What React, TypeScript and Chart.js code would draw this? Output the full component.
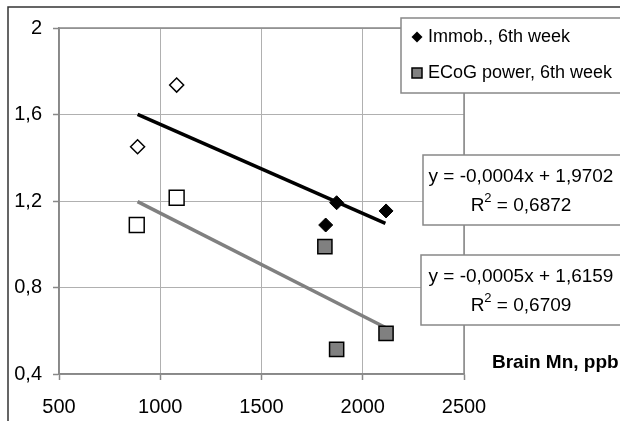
import React, { useEffect, useRef } from "react";
import { Chart, registerables } from "chart.js";

Chart.register(...registerables);

const seriesNames = ["Immob., 6th week", "ECoG power, 6th week"];
const immobFilledX = [1817, 1871, 2115];
const immobFilledY = [1.089, 1.192, 1.154];
const immobOpenX = [888, 1081];
const immobOpenY = [1.451, 1.736];
const ecogFilledX = [1813, 1871, 2115];
const ecogFilledY = [0.989, 0.514, 0.588];
const ecogOpenX = [884, 1081];
const ecogOpenY = [1.089, 1.215];
const immobTrendX = [888, 2112];
const immobTrendY = [1.601, 1.097];
const ecogTrendX = [888, 2112];
const ecogTrendY = [1.197, 0.615];
const xTickLabels = ["500", "1000", "1500", "2000", "2500"];
const yTickLabels = ["0,4", "0,8", "1,2", "1,6", "2"];
const eq1 = ["y = -0,0004x + 1,9702", "0,6872"];
const eq2 = ["y = -0,0005x + 1,6159", "0,6709"];
const xAxisTitle = "Brain Mn, ppb";

const zip = (xs: number[], ys: number[]) => xs.map((x, i) => ({ x, y: ys[i] }));

const FONT = "'Liberation Sans', Arial, sans-serif";

const overlayPlugin = {
  id: "overlay",
  beforeDraw(chart: any) {
    const ctx = chart.ctx;
    ctx.save();
    ctx.fillStyle = "#ffffff";
    ctx.fillRect(0, 0, chart.width, chart.height);
    ctx.restore();
  },
  afterDraw(chart: any) {
    const ctx = chart.ctx;
    const a = chart.chartArea;
    ctx.save();
    ctx.strokeStyle = "#888888";
    ctx.lineWidth = 1.5;
    ctx.strokeRect(a.left, a.top, a.right - a.left, a.bottom - a.top);
    ctx.strokeStyle = "#333333";
    ctx.lineWidth = 1.5;
    ctx.beginPath();
    ctx.moveTo(8, chart.height + 2);
    ctx.lineTo(8, 7);
    ctx.lineTo(chart.width + 2, 7);
    ctx.stroke();

    ctx.fillStyle = "#ffffff";
    ctx.fillRect(401, 18, 240, 75);
    ctx.strokeStyle = "#888888";
    ctx.lineWidth = 1.5;
    ctx.strokeRect(401, 18, 240, 75);
    ctx.fillStyle = "#000000";
    ctx.beginPath();
    ctx.moveTo(417, 37 - 5.5);
    ctx.lineTo(417 + 5.5, 37);
    ctx.lineTo(417, 37 + 5.5);
    ctx.lineTo(417 - 5.5, 37);
    ctx.closePath();
    ctx.fill();
    ctx.fillStyle = "#808080";
    ctx.fillRect(412, 68, 10, 10);
    ctx.strokeStyle = "#000000";
    ctx.lineWidth = 1.5;
    ctx.strokeRect(412, 68, 10, 10);
    ctx.fillStyle = "#000000";
    ctx.font = `18px ${FONT}`;
    ctx.textAlign = "left";
    ctx.textBaseline = "middle";
    ctx.fillText(seriesNames[0], 428, 37);
    ctx.fillText(seriesNames[1], 428, 73);

    const drawEq = (left: number, top: number, lines: string[]) => {
      ctx.fillStyle = "#ffffff";
      ctx.fillRect(left, top, 240, 70);
      ctx.strokeStyle = "#888888";
      ctx.lineWidth = 1.5;
      ctx.strokeRect(left, top, 240, 70);
      ctx.fillStyle = "#000000";
      ctx.textBaseline = "alphabetic";
      ctx.font = `19px ${FONT}`;
      ctx.textAlign = "center";
      const cx = 521;
      ctx.fillText(lines[0], cx, top + 27);
      ctx.textAlign = "left";
      const rest = " = " + lines[1];
      const wR = ctx.measureText("R").width;
      const wRest = ctx.measureText(rest).width;
      ctx.font = `13px ${FONT}`;
      const w2 = ctx.measureText("2").width;
      const total = wR + w2 + wRest;
      let x = cx - total / 2;
      const base = top + 56;
      ctx.font = `19px ${FONT}`;
      ctx.fillText("R", x, base);
      x += wR;
      ctx.font = `13px ${FONT}`;
      ctx.fillText("2", x, base - 9);
      x += w2;
      ctx.font = `19px ${FONT}`;
      ctx.fillText(rest, x, base);
    };
    drawEq(423, 155, eq1);
    drawEq(421, 255, eq2);

    ctx.font = `bold 19px ${FONT}`;
    ctx.textAlign = "left";
    ctx.textBaseline = "middle";
    ctx.fillStyle = "#000000";
    ctx.fillText(xAxisTitle, 492, 363);
    ctx.restore();
  },
};

export default function App() {
  const ref = useRef<HTMLCanvasElement | null>(null);
  useEffect(() => {
    if (!ref.current) return;
    const chart = new Chart(ref.current, {
      type: "scatter",
      data: {
        datasets: [
          {
            label: seriesNames[0],
            data: zip(immobFilledX, immobFilledY),
            pointStyle: "rectRot",
            pointRadius: 7,
            backgroundColor: "#000000",
            borderColor: "#000000",
            borderWidth: 1,
          },
          {
            label: seriesNames[0] + " (open)",
            data: zip(immobOpenX, immobOpenY),
            pointStyle: "rectRot",
            pointRadius: 7,
            backgroundColor: "#ffffff",
            borderColor: "#000000",
            borderWidth: 1.5,
          },
          {
            label: seriesNames[1],
            data: zip(ecogFilledX, ecogFilledY),
            pointStyle: "rect",
            pointRadius: 10,
            backgroundColor: "#808080",
            borderColor: "#000000",
            borderWidth: 1.5,
          },
          {
            label: seriesNames[1] + " (open)",
            data: zip(ecogOpenX, ecogOpenY),
            pointStyle: "rect",
            pointRadius: 10.5,
            backgroundColor: "#ffffff",
            borderColor: "#000000",
            borderWidth: 1.5,
          },
          {
            label: "Trend " + seriesNames[0],
            data: zip(immobTrendX, immobTrendY),
            showLine: true,
            pointRadius: 0,
            borderColor: "#000000",
            borderWidth: 3.5,
          },
          {
            label: "Trend " + seriesNames[1],
            data: zip(ecogTrendX, ecogTrendY),
            showLine: true,
            pointRadius: 0,
            borderColor: "#808080",
            borderWidth: 3.5,
          },
        ],
      },
      options: {
        animation: false,
        responsive: false,
        events: [],
        layout: { padding: { top: 28, right: 156, left: 0, bottom: 0 } },
        plugins: { legend: { display: false }, tooltip: { enabled: false } },
        scales: {
          x: {
            type: "linear",
            min: 500,
            max: 2500,
            ticks: {
              stepSize: 500,
              color: "#000000",
              font: { family: FONT, size: 20 },
              padding: 15,
              maxRotation: 0,
              callback: (_v: any, i: number) => xTickLabels[i],
            },
            grid: {
              color: "#b0b0b0",
              lineWidth: 1,
              borderDash: [1, 2],
              tickLength: 6,
              tickColor: "#888888",
              tickBorderDash: [],
              tickWidth: 1.5,
            } as any,
            border: { color: "#888888", width: 1.5 },
            afterFit: (s: any) => {
              s.height = 47;
            },
          },
          y: {
            type: "linear",
            min: 0.4,
            max: 2,
            ticks: {
              stepSize: 0.4,
              color: "#000000",
              font: { family: FONT, size: 20 },
              padding: 11,
              callback: (_v: any, i: number) => yTickLabels[i],
            },
            grid: {
              color: "#b0b0b0",
              lineWidth: 1,
              borderDash: [1, 2],
              tickLength: 6,
              tickColor: "#888888",
              tickBorderDash: [],
              tickWidth: 1.5,
            } as any,
            border: { color: "#888888", width: 1.5 },
            afterFit: (s: any) => {
              s.width = 59;
            },
          },
        },
      } as any,
      plugins: [overlayPlugin],
    });
    return () => chart.destroy();
  }, []);
  return (
    <div style={{ position: "fixed", left: 0, top: 0, width: 620, height: 421 }}>
      <canvas ref={ref} width={620} height={421} style={{ width: 620, height: 421 }} />
    </div>
  );
}
